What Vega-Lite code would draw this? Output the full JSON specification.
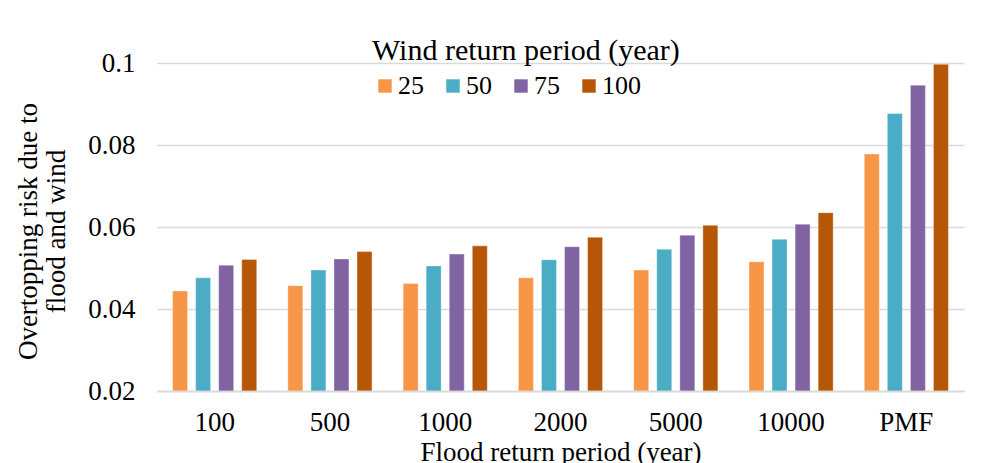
{
  "$schema": "https://vega.github.io/schema/vega-lite/v6.json",
  "width": 807,
  "height": 328,
  "autosize": {"type": "none"},
  "padding": {"left": 157, "top": 63, "right": 18, "bottom": 72},
  "background": "white",
  "config": {
    "font": "Liberation Serif",
    "view": {"stroke": null},
    "axis": {"labelColor": "#000000", "titleColor": "#000000", "titleFontWeight": "normal"},
    "legend": {"labelColor": "#000000", "titleColor": "#000000", "titleFontWeight": "normal"}
  },
  "data": {
    "values": [
      {"flood": "100", "wind": "25", "risk": 0.0444},
      {"flood": "100", "wind": "50", "risk": 0.0476},
      {"flood": "100", "wind": "75", "risk": 0.0507},
      {"flood": "100", "wind": "100", "risk": 0.0521},
      {"flood": "500", "wind": "25", "risk": 0.0457},
      {"flood": "500", "wind": "50", "risk": 0.0495},
      {"flood": "500", "wind": "75", "risk": 0.0522},
      {"flood": "500", "wind": "100", "risk": 0.0540},
      {"flood": "1000", "wind": "25", "risk": 0.0462},
      {"flood": "1000", "wind": "50", "risk": 0.0505},
      {"flood": "1000", "wind": "75", "risk": 0.0534},
      {"flood": "1000", "wind": "100", "risk": 0.0554},
      {"flood": "2000", "wind": "25", "risk": 0.0476},
      {"flood": "2000", "wind": "50", "risk": 0.0520},
      {"flood": "2000", "wind": "75", "risk": 0.0552},
      {"flood": "2000", "wind": "100", "risk": 0.0575},
      {"flood": "5000", "wind": "25", "risk": 0.0495},
      {"flood": "5000", "wind": "50", "risk": 0.0546},
      {"flood": "5000", "wind": "75", "risk": 0.0580},
      {"flood": "5000", "wind": "100", "risk": 0.0604},
      {"flood": "10000", "wind": "25", "risk": 0.0515},
      {"flood": "10000", "wind": "50", "risk": 0.0570},
      {"flood": "10000", "wind": "75", "risk": 0.0607},
      {"flood": "10000", "wind": "100", "risk": 0.0635},
      {"flood": "PMF", "wind": "25", "risk": 0.0778},
      {"flood": "PMF", "wind": "50", "risk": 0.0877},
      {"flood": "PMF", "wind": "75", "risk": 0.0946},
      {"flood": "PMF", "wind": "100", "risk": 0.0997}
    ]
  },
  "mark": {"type": "bar", "stroke": "white", "strokeWidth": 0.6, "strokeOpacity": 0.6},
  "encoding": {
    "x": {
      "field": "flood",
      "type": "nominal",
      "sort": ["100", "500", "1000", "2000", "5000", "10000", "PMF"],
      "scale": {"paddingInner": 0.27, "paddingOuter": 0.135},
      "axis": {
        "title": "Flood return period (year)",
        "titleFont": "Liberation Serif",
        "labelFont": "Liberation Serif",
        "titleFontSize": 27,
        "titlePadding": 4,
        "labelFontSize": 27,
        "labelAngle": 0,
        "labelPadding": 18,
        "ticks": false,
        "domainColor": "#d9d9d9",
        "domainWidth": 1.5,
        "zindex": 1
      }
    },
    "xOffset": {
      "field": "wind",
      "type": "nominal",
      "sort": ["25", "50", "75", "100"],
      "scale": {"paddingInner": 0.35, "paddingOuter": 0}
    },
    "y": {
      "field": "risk",
      "type": "quantitative",
      "scale": {"domain": [0.02, 0.1], "zero": false, "nice": false},
      "axis": {
        "title": ["Overtopping risk due to", "flood and wind"],
        "titleFont": "Liberation Serif",
        "labelFont": "Liberation Serif",
        "titleFontSize": 27,
        "titlePadding": 17,
        "titleLineHeight": 28,
        "titleY": 168,
        "labelFontSize": 27,
        "labelPadding": 22,
        "values": [0.02, 0.04, 0.06, 0.08, 0.1],
        "labelExpr": "format(datum.value, '~g')",
        "ticks": false,
        "domain": false,
        "gridColor": "#d9d9d9",
        "gridWidth": 1.5
      }
    },
    "y2": {"datum": 0.02},
    "color": {
      "field": "wind",
      "type": "nominal",
      "sort": ["25", "50", "75", "100"],
      "scale": {"domain": ["25", "50", "75", "100"], "range": ["#F79646", "#4BACC6", "#8064A2", "#B65708"]},
      "legend": {
        "title": "Wind return period (year)",
        "titleFont": "Liberation Serif",
        "labelFont": "Liberation Serif",
        "orient": "none",
        "direction": "horizontal",
        "legendX": 215,
        "legendY": -27,
        "titleFontSize": 30,
        "titleLimit": 600,
        "titleAnchor": "start",
        "titlePadding": 7,
        "labelFontSize": 26,
        "labelOffset": 0,
        "symbolType": "square",
        "symbolSize": 180,
        "symbolStrokeWidth": 0,
        "symbolOpacity": 1,
        "columnPadding": 16,
        "padding": 0
      }
    }
  }
}
